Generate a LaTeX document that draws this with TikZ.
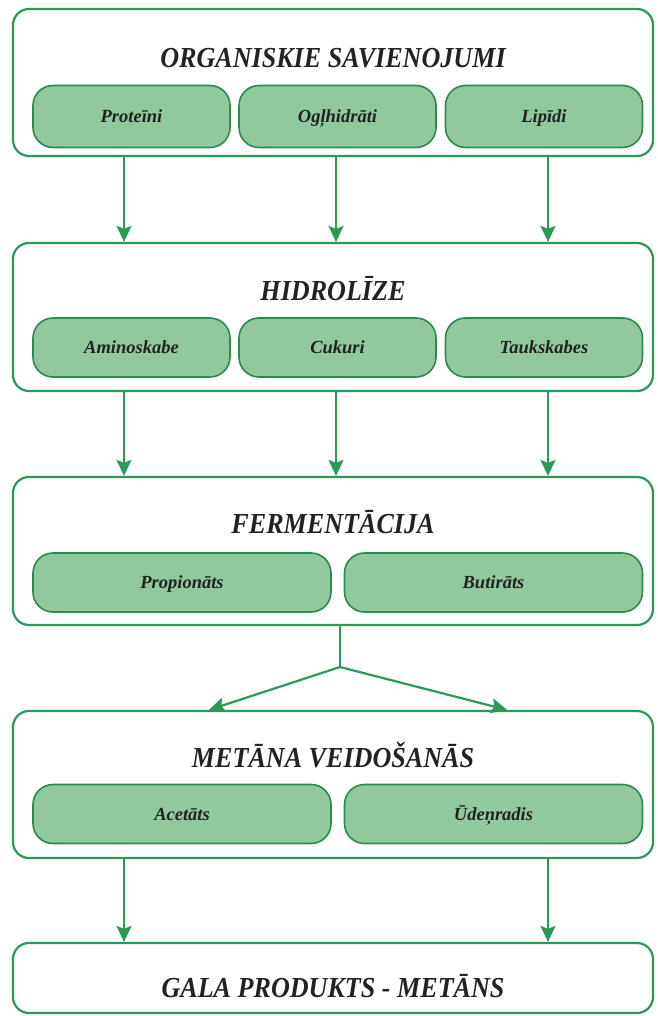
\documentclass[tikz,border=0pt]{standalone}
\usepackage{fontspec}
\setmainfont{Liberation Serif}
\newfontfamily\headfont{Liberation Serif}[FakeStretch=0.9]
\newfontfamily\partfont{Liberation Serif}[FakeStretch=1.0]
\usetikzlibrary{arrows.meta}
\definecolor{gline}{HTML}{2A9A57}
\definecolor{gedge}{HTML}{2B8A50}
\definecolor{gfill}{HTML}{92C89E}
\definecolor{ink}{HTML}{222222}
\begin{document}
\begin{tikzpicture}[x=1pt,y=-1pt,
  stage/.style={draw=gline, line width=2.2pt, rounded corners=16pt, fill=white,
    minimum width=640pt, inner sep=0pt},
  part/.style={draw=gedge, line width=1.6pt, rounded corners=20pt, fill=gfill,
    minimum height=59pt, inner sep=0pt, text height=14pt, text depth=2pt},
  ttl/.style={font=\headfont\fontsize{29}{30}\selectfont\bfseries\itshape, text=ink},
  lbl/.style={font=\partfont\fontsize{18.5}{20}\selectfont\bfseries\itshape, text=ink},
  flow/.style={draw=gline, line width=2.2pt, -{Stealth[length=16pt,width=15pt,inset=3pt]}},
  link/.style={draw=gline, line width=2.2pt}]
\useasboundingbox (0,0) rectangle (657,1016);

% stage frames
\node[stage, minimum height=147pt] (s1) at (333,82.5) {};
\node[stage, minimum height=148pt] (s2) at (333,317) {};
\node[stage, minimum height=148pt] (s3) at (333,551) {};
\node[stage, minimum height=147pt] (s4) at (333,784.5) {};
\node[stage, minimum height=70pt]  (s5) at (333,978) {};

% stage titles
\node[ttl] (h1) at (333,58)  {ORGANISKIE SAVIENOJUMI};
\node[ttl] (h2) at (333,289) {HIDROLĪZE};
\node[ttl] (h3) at (333,522) {FERMENTĀCIJA};
\node[ttl] (h4) at (333,755) {METĀNA VEIDOŠANĀS};
\node[ttl] (h5) at (333,986) {GALA PRODUKTS - METĀNS};

% components, three per row
\node[part, lbl, minimum width=197pt, minimum height=62pt] (p1) at (131.5,116.5) {Proteīni};
\node[part, lbl, minimum width=197pt, minimum height=62pt] (p2) at (337.5,116.5) {Ogļhidrāti};
\node[part, lbl, minimum width=197pt, minimum height=62pt] (p3) at (544,116.5) {Lipīdi};
\node[part, lbl, minimum width=197pt] (a1) at (131.5,347.5) {Aminoskabe};
\node[part, lbl, minimum width=197pt] (a2) at (337.5,347.5) {Cukuri};
\node[part, lbl, minimum width=197pt] (a3) at (544,347.5) {Taukskabes};

% components, two per row
\node[part, lbl, minimum width=298pt] (f1) at (182,582.5) {Propionāts};
\node[part, lbl, minimum width=298pt] (f2) at (493.5,582.5) {Butirāts};
\node[part, lbl, minimum width=298pt] (m1) at (182,814) {Acetāts};
\node[part, lbl, minimum width=298pt] (m2) at (493.5,814) {Ūdeņradis};

% arrow columns
\coordinate (cl) at (124,0);
\coordinate (cm) at (336,0);
\coordinate (cr) at (548,0);
\coordinate (fk) at (340,667);
\coordinate (dl) at (209,0);
\coordinate (dr) at (507,0);

\foreach \c in {cl,cm,cr}{
  \draw[flow] (s1.south -| \c) -- (s2.north -| \c);
  \draw[flow] (s2.south -| \c) -- (s3.north -| \c);
}
\draw[link] (s3.south -| fk) -- (fk);
\draw[flow] (fk) -- (s4.north -| dl);
\draw[flow] (fk) -- (s4.north -| dr);
\draw[flow] (s4.south -| cl) -- (s5.north -| cl);
\draw[flow] (s4.south -| cr) -- (s5.north -| cr);
\end{tikzpicture}
\end{document}
